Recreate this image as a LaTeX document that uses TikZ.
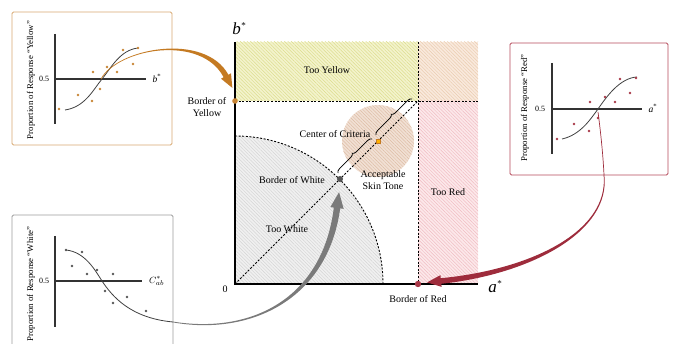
\documentclass[tikz,border=0pt]{standalone}
\usepackage{fontspec}
\setmainfont{Liberation Serif}
\usetikzlibrary{calc,patterns.meta,decorations.pathreplacing}
\definecolor{ylwbase}{HTML}{F3F3CC}
\definecolor{ylwline}{HTML}{DCDC8C}
\definecolor{pchbase}{HTML}{F9E9DC}
\definecolor{pchline}{HTML}{EACBAE}
\definecolor{pnkbase}{HTML}{FCE8EA}
\definecolor{pnkline}{HTML}{F0BCC2}
\definecolor{grybase}{HTML}{F0F0F0}
\definecolor{gryline}{HTML}{D4D4D4}
\definecolor{accbase}{HTML}{F1E0D4}
\definecolor{accline}{HTML}{DDBCA4}
\definecolor{orarrow}{HTML}{C47A22}
\definecolor{rdarrow}{HTML}{9E2C3C}
\definecolor{gyarrow}{HTML}{7A7A7A}
\definecolor{ylwframe}{HTML}{D8A870}
\definecolor{rdframe}{HTML}{B44A5A}
\definecolor{gyframe}{HTML}{9C9C9C}
\definecolor{ydot}{HTML}{C88434}
\definecolor{rdot}{HTML}{A83848}
\definecolor{gdot}{HTML}{555555}
\newcommand\taperarrow[9]{%
 \fill[#9] ($(#1)!#5!90:(#2)$) .. controls ($(#2)!#6!-90:(#1)$) and ($(#3)!#7!90:(#4)$) .. ($(#4)!#8!-90:(#3)$)
 -- ($(#4)!2.1*#8!-90:(#3)$) -- ($(#4)!-5*#8!(#3)$) -- ($(#4)!2.1*#8!90:(#3)$) -- ($(#4)!#8!90:(#3)$)
 .. controls ($(#3)!#7!-90:(#4)$) and ($(#2)!#6!90:(#1)$) .. ($(#1)!#5!-90:(#2)$) -- cycle;}
\tikzset{
 hatch/.style 2 args={fill=#1, postaction={pattern={Lines[angle=-45,distance=2.4pt,line width=0.45pt]}, pattern color=#2}},
 dashline/.style={line width=0.9pt, dash pattern=on 2pt off 1.6pt},
 lbl/.style={font=\fontsize{10}{12.5}\selectfont, inner sep=0pt, align=center},
 plbl/.style={font=\fontsize{8}{9}\selectfont, inner sep=0pt},
 rlbl/.style={font=\fontsize{8.8}{9}\selectfont, inner sep=0pt, rotate=90},
 paxis/.style={line width=1.3pt, draw=black!80},
 pcurve/.style={line width=0.8pt, draw=black!75},
}
\begin{document}
\begin{tikzpicture}[x=1pt,y=-1pt]
\useasboundingbox (0,0) rectangle (676,344);
% key coordinates
\coordinate (O) at (235,284);
\coordinate (topax) at (235,42);
\coordinate (rax) at (478,284);
\coordinate (by) at (235,101);
\coordinate (br) at (418,284);
\coordinate (corner) at (418,101);
\coordinate (bw) at (340,179);
\coordinate (cc) at (378,141);
% regions
\path[hatch={ylwbase}{ylwline}] (235,42) rectangle (418,101);
\path[hatch={pchbase}{pchline}] (418,42) rectangle (478,101);
\path[hatch={pnkbase}{pnkline}] (418,101) rectangle (478,284);
\path[hatch={grybase}{gryline}] (O) -- ($(O)+(0,-148)$) arc[start angle=90,end angle=0,radius=148pt] -- cycle;
\path[hatch={accbase}{accline}] (cc) circle[radius=36pt];
% dashed lines
\draw[dashline] ($(O)+(0,-148)$) arc[start angle=90,end angle=0,radius=148pt];
\draw[dashline] (by) -- (478,101);
\draw[dashline] (418,42) -- (br);
\draw[dashline] (O) -- (corner);
% axes
\draw[line width=1.8pt] (topax) -- (O) -- (rax);
% braces
\draw[decorate,decoration={brace,amplitude=4pt},line width=0.8pt] ($(bw)+(-2,-6)$) -- ($(cc)+(-6,-2)$);
\draw[decorate,decoration={brace,amplitude=4pt},line width=0.8pt] ($(cc)+(-2,-6)$) -- ($(corner)+(-6,-2)$);
% points
\fill[gdot] (bw) circle[radius=3pt];
\filldraw[fill=orange!60!yellow, draw=orarrow, line width=0.5pt] ($(cc)+(-2,-2)$) rectangle ($(cc)+(2,2)$);
\fill[ydot] (by) circle[radius=2.8pt];
\fill[rdot] (br) circle[radius=3.2pt];
% labels
\node[lbl] (tyl) at (327,70) {Too Yellow};
\node[lbl] (ccl) at (335,134) {Center of Criteria};
\node[lbl] (bwl) at (292,180) {Border of White};
\node[lbl] (acl) at (383,180) {Acceptable\\Skin Tone};
\node[lbl] (trl) at (448,192) {Too Red};
\node[lbl] (twl) at (287,229) {Too White};
\node[lbl] (zl) at (225,289) {0};
\node[lbl] (brl) at (418,299) {Border of Red};
\node[lbl] (byl) at (207,107) {Border of\\Yellow};
\node[inner sep=0pt] (bst) at (239,29) {\fontsize{17}{17}\selectfont\itshape b\kern0.5pt\raisebox{6pt}{\fontsize{9}{9}\selectfont\upshape *}};
\node[inner sep=0pt] (ast) at (495,287) {\fontsize{17}{17}\selectfont\itshape a\kern0.5pt\raisebox{6pt}{\fontsize{9}{9}\selectfont\upshape *}};
% ---------- yellow panel
\draw[ylwframe, line width=0.9pt, rounded corners=1.5pt] (12,12) rectangle (172,145);
\draw[paxis] (55,34) -- (55,124);
\draw[paxis] (55,79) -- (146,79);
\node[plbl] (y05) at (44,79) {0.5};
\node[plbl] (ybs) at (157,78) {\fontsize{9.5}{9}\selectfont\itshape b\upshape\textsuperscript{*}};
\node[rlbl] (ylab) at (31,80) {Proportion of Response “Yellow”};
\draw[pcurve] (65,110) .. controls (85,107) and (93,90) .. (102,79) .. controls (111,68) and (120,50) .. (138,48);
\foreach \p in {(59,109),(78,95),(92,101),(100,89),(93,72),(107,67),(117,72),(123,50),(133,64),(138,48)}
  \fill[ydot] \p circle[radius=1.4pt];
% ---------- red panel
\draw[rdframe, line width=0.9pt, rounded corners=1.5pt] (510,43) rectangle (668,175);
\draw[paxis] (552,63) -- (552,154);
\draw[paxis] (552,109) -- (642,109);
\node[plbl] (r05) at (540,109) {0.5};
\node[plbl] (ras) at (653,108) {\fontsize{9.5}{9}\selectfont\itshape a\upshape\textsuperscript{*}};
\node[rlbl] (rlab) at (525,108) {Proportion of Response “Red”};
\draw[pcurve] (562,139) .. controls (580,135) and (590,120) .. (598,109) .. controls (607,96) and (620,78) .. (637,77);
\foreach \p in {(557,139),(574,124),(589,131),(590,102),(598,118),(605,97),(615,102),(620,79),(630,93),(636,78)}
  \fill[rdot] \p circle[radius=1.4pt];
% ---------- white panel
\draw[gyframe, line width=0.9pt, rounded corners=1.5pt] (12,350) -- (12,215) -- (173,215) -- (173,350);
\draw[paxis] (55,236) -- (55,327);
\draw[paxis] (55,281) -- (142,281);
\node[plbl] (w05) at (44,281) {0.5};
\node[plbl, anchor=west] (wcs) at (149,281) {\fontsize{9.5}{9}\selectfont $C^{*}_{ab}$};
\node[rlbl] (wlab) at (31,284) {Proportion of Response “White”};
\draw[pcurve] (66,250) .. controls (85,252) and (95,270) .. (102,281) .. controls (112,296) and (130,318) .. (173,322);
\foreach \p in {(66,250),(82,252),(72,266),(87,274),(97,270),(113,274),(105,291),(113,303),(127,297),(146,311)}
  \fill[gdot] \p circle[radius=1.4pt];
% ---------- arrows
\coordinate (oa0) at (101,79);
\coordinate (oa1) at (118,48);
\coordinate (oa2) at (203,33);
\coordinate (oa3) at (226,76);
\taperarrow{oa0}{oa1}{oa2}{oa3}{0.3pt}{0.7pt}{2.2pt}{2.7pt}{orarrow}
\coordinate (ga0) at (173,322);
\coordinate (ga1) at (250,335);
\coordinate (ga2) at (325,300);
\coordinate (ga3) at (337,208);
\taperarrow{ga0}{ga1}{ga2}{ga3}{0.4pt}{0.9pt}{2.6pt}{3.2pt}{gyarrow}
\coordinate (ra0) at (598,112);
\coordinate (ra1) at (604,175);
\draw[rdarrow, line width=0.7pt] (ra0) .. controls (601,135) and (603,155) .. (ra1);
\coordinate (rb1) at (610,232);
\coordinate (rb2) at (530,272);
\coordinate (rb3) at (441,281);
\taperarrow{ra1}{rb1}{rb2}{rb3}{0.35pt}{1pt}{2.3pt}{2.8pt}{rdarrow}
\end{tikzpicture}
\end{document}
